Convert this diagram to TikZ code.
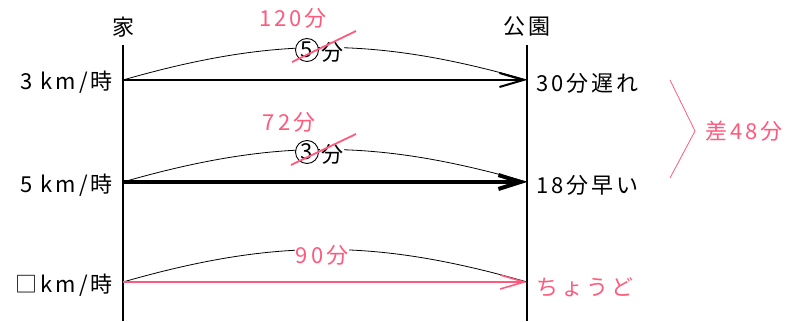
\documentclass[tikz,border=0pt]{standalone}
\usepackage{fontspec}
\setmainfont{Noto Sans CJK JP}
\usetikzlibrary{positioning, arrows.meta, calc}
\definecolor{kr-pink}{RGB}{255,90,125}
\tikzset{
  kr@lbl/.style={font=\fontsize{22}{24}\selectfont\addfontfeature{LetterSpace=14},
                 inner sep=1pt},
  kr@red/.style={kr@lbl, text=kr-pink},
  kr@post/.style={line width=2.6pt},
  kr@arc/.style={line width=0.8pt, bend left=16},
  kr@arr/.style={-{Straight Barb[length=24pt,width=14pt,line width=2pt]}, line width=2pt},
  kr@fast/.style={-{Straight Barb[length=22pt,width=14pt,line width=4pt]}, line width=4.5pt},
  kr@just/.style={-{Straight Barb[length=24pt,width=14pt,line width=1.6pt]}, line width=1.6pt, kr-pink},
  kr@strike/.style={line width=1.8pt, kr-pink},
  kr@maru/.style={kr@lbl, circle, draw, line width=0.9pt, minimum size=23pt, inner sep=0pt, fill=white},
}
\begin{document}
\begin{tikzpicture}[x=1pt, y=1pt]
  \useasboundingbox (0,0) rectangle (799,321);

  % 家 and 公園
  \node[kr@lbl] (home) at (123,294) {家};
  \node[kr@lbl] (park) at (527,294) {公園};
  \coordinate (ht) at (123,276);
  \coordinate (hb) at (123,0);
  \coordinate (pt) at (527,276);
  \coordinate (pb) at (527,0);
  \draw[kr@post] (ht) -- (hb);
  \draw[kr@post] (pt) -- (pb);

  \coordinate (h1) at (123,241);
  \coordinate (p1) at (527,241);
  \coordinate (h2) at (123,139);
  \coordinate (p2) at (527,139);
  \coordinate (h3) at (123,39);
  \coordinate (p3) at (527,39);

  % speeds
  \node[kr@lbl, left=9pt of h1, yshift=-2pt] (v3) {3 km/時};
  \node[kr@lbl, left=9pt of h2, yshift=-3pt] (v5) {5 km/時};
  \node[kr@lbl, left=9pt of h3, yshift=-3pt] (vx) {□km/時};

  % arcs
  \draw[kr@arc] (h1) to (p1);
  \draw[kr@arc] (h2) to (p2);
  \draw[kr@arc] (h3) to (p3);

  % arrows
  \draw[kr@arr]  (h1) -- (p1);
  \draw[kr@fast] (h2) -- (p2);
  \draw[kr@just] (h3) -- (p3);

  % times on the arcs
  \node[kr@maru] (c5) at (307,271) {5};
  \node[kr@lbl, fill=white, right=1pt of c5, yshift=-2pt] (m5) {分};
  \node[kr@maru] (c3) at (307,169) {3};
  \node[kr@lbl, fill=white, right=1pt of c3, yshift=-2pt] (m3) {分};
  \node[kr@red, fill=white] (t90) at (322,66) {90分};

  \coordinate (s1a) at (292,259);
  \coordinate (s1b) at (356,290);
  \coordinate (s2a) at (291,156);
  \coordinate (s2b) at (356,187);
  \draw[kr@strike] (s1a) -- (s1b);
  \draw[kr@strike] (s2a) -- (s2b);
  \node[kr@red] (t120) at (293,303) {120分};
  \node[kr@red] (t72) at (289,199) {72分};

  % results
  \node[kr@lbl, right=8pt of p1, yshift=-3pt] (late) {30分遅れ};
  \node[kr@lbl, right=8pt of p2, yshift=-3pt] (early) {18分早い};
  \node[kr@red, right=8pt of p3, yshift=-5pt] (just) {ちょうど};

  % difference
  \coordinate (b1) at (670,241);
  \coordinate (bk) at (695,190);
  \coordinate (b2) at (670,143);
  \draw[kr-pink, line width=0.8pt] (b1) -- (bk) -- (b2);
  \node[kr@red, right=9pt of bk] (diff) {差48分};
\end{tikzpicture}
\end{document}
